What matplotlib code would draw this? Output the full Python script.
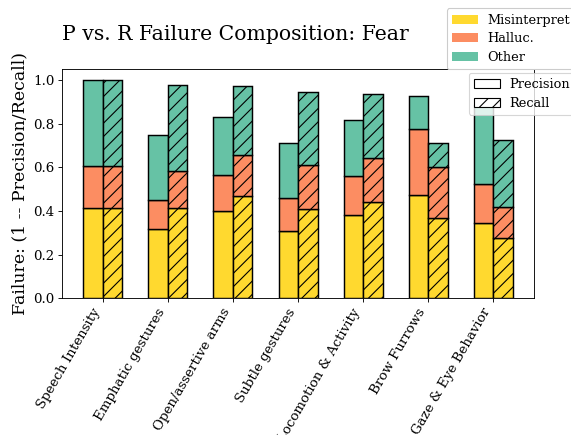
"""
P vs. R failure composition (Fear) - stacked bars, precision vs recall
"""

import numpy as np
import matplotlib.pyplot as plt
from matplotlib.patches import Patch

# ============== data ==============
CUES = ['Speech Intensity', 'Emphatic gestures', 'Open/assertive arms',
        'Subtle gestures', 'Locomotion & Activity', 'Brow Furrows',
        'Gaze & Eye Behavior']

# precision side (per segment)
P_MIS = [0.416, 0.318, 0.401, 0.310, 0.384, 0.475, 0.344]
P_HAL = [0.189, 0.131, 0.164, 0.152, 0.177, 0.302, 0.180]
P_OTH = [0.395, 0.301, 0.268, 0.252, 0.256, 0.151, 0.364]

# recall side
R_MIS = [0.416, 0.416, 0.469, 0.410, 0.441, 0.366, 0.275]
R_HAL = [0.189, 0.168, 0.189, 0.201, 0.201, 0.235, 0.144]
R_OTH = [0.395, 0.394, 0.316, 0.335, 0.297, 0.113, 0.309]

COLORS = {'Misinterpret': '#ffd92f', 'Halluc.': '#fc8d62', 'Other': '#66c2a5'}

plt.rcParams['font.family'] = 'DejaVu Serif'
plt.rcParams['hatch.linewidth'] = 1.0

x = np.arange(len(CUES))
w = 0.3

DPI = 80
fig = plt.figure(figsize=(571 / DPI, 435 / DPI), dpi=DPI)
ax = fig.add_axes([0.1086, 0.3143, 0.8266, 0.5264])

for side, (mis, hal, oth), off, hatch in [
        ('P', (P_MIS, P_HAL, P_OTH), -w / 2, None),
        ('R', (R_MIS, R_HAL, R_OTH), w / 2, '//')]:
    bottom = np.zeros(len(CUES))
    for vals, name in zip((mis, hal, oth), COLORS):
        ax.bar(x + off, vals, w, bottom=bottom, color=COLORS[name],
               edgecolor='black', linewidth=1.3, hatch=hatch)
        bottom += np.array(vals)

ax.set_xticks(x)
ax.set_xticklabels(CUES, rotation=60, ha='right', fontsize=12)
ax.tick_params(axis='y', labelsize=12)
ax.set_ylabel('Failure: (1 -- Precision/Recall)', fontsize=15.6)
ax.set_title('P vs. R Failure Composition: Fear', loc='left', fontsize=18.3, pad=26)

# legend 1: failure type colours
color_handles = [Patch(facecolor=c, label=n) for n, c in COLORS.items()]
leg1 = ax.legend(handles=color_handles, loc='upper left',
                 bbox_to_anchor=(0.815, 1.266), borderaxespad=0,
                 fontsize=11.6, labelspacing=0.45, handletextpad=0.75,
                 framealpha=1.0)
ax.add_artist(leg1)

# legend 2: precision vs recall hatching
hatch_handles = [Patch(facecolor='white', edgecolor='black', label='Precision'),
                 Patch(facecolor='white', edgecolor='black', hatch='//', label='Recall')]
ax.legend(handles=hatch_handles, loc='upper left',
          bbox_to_anchor=(0.862, 0.985), borderaxespad=0,
          fontsize=11.6, labelspacing=0.45, handletextpad=0.75)

plt.savefig('out.png', dpi=DPI)
